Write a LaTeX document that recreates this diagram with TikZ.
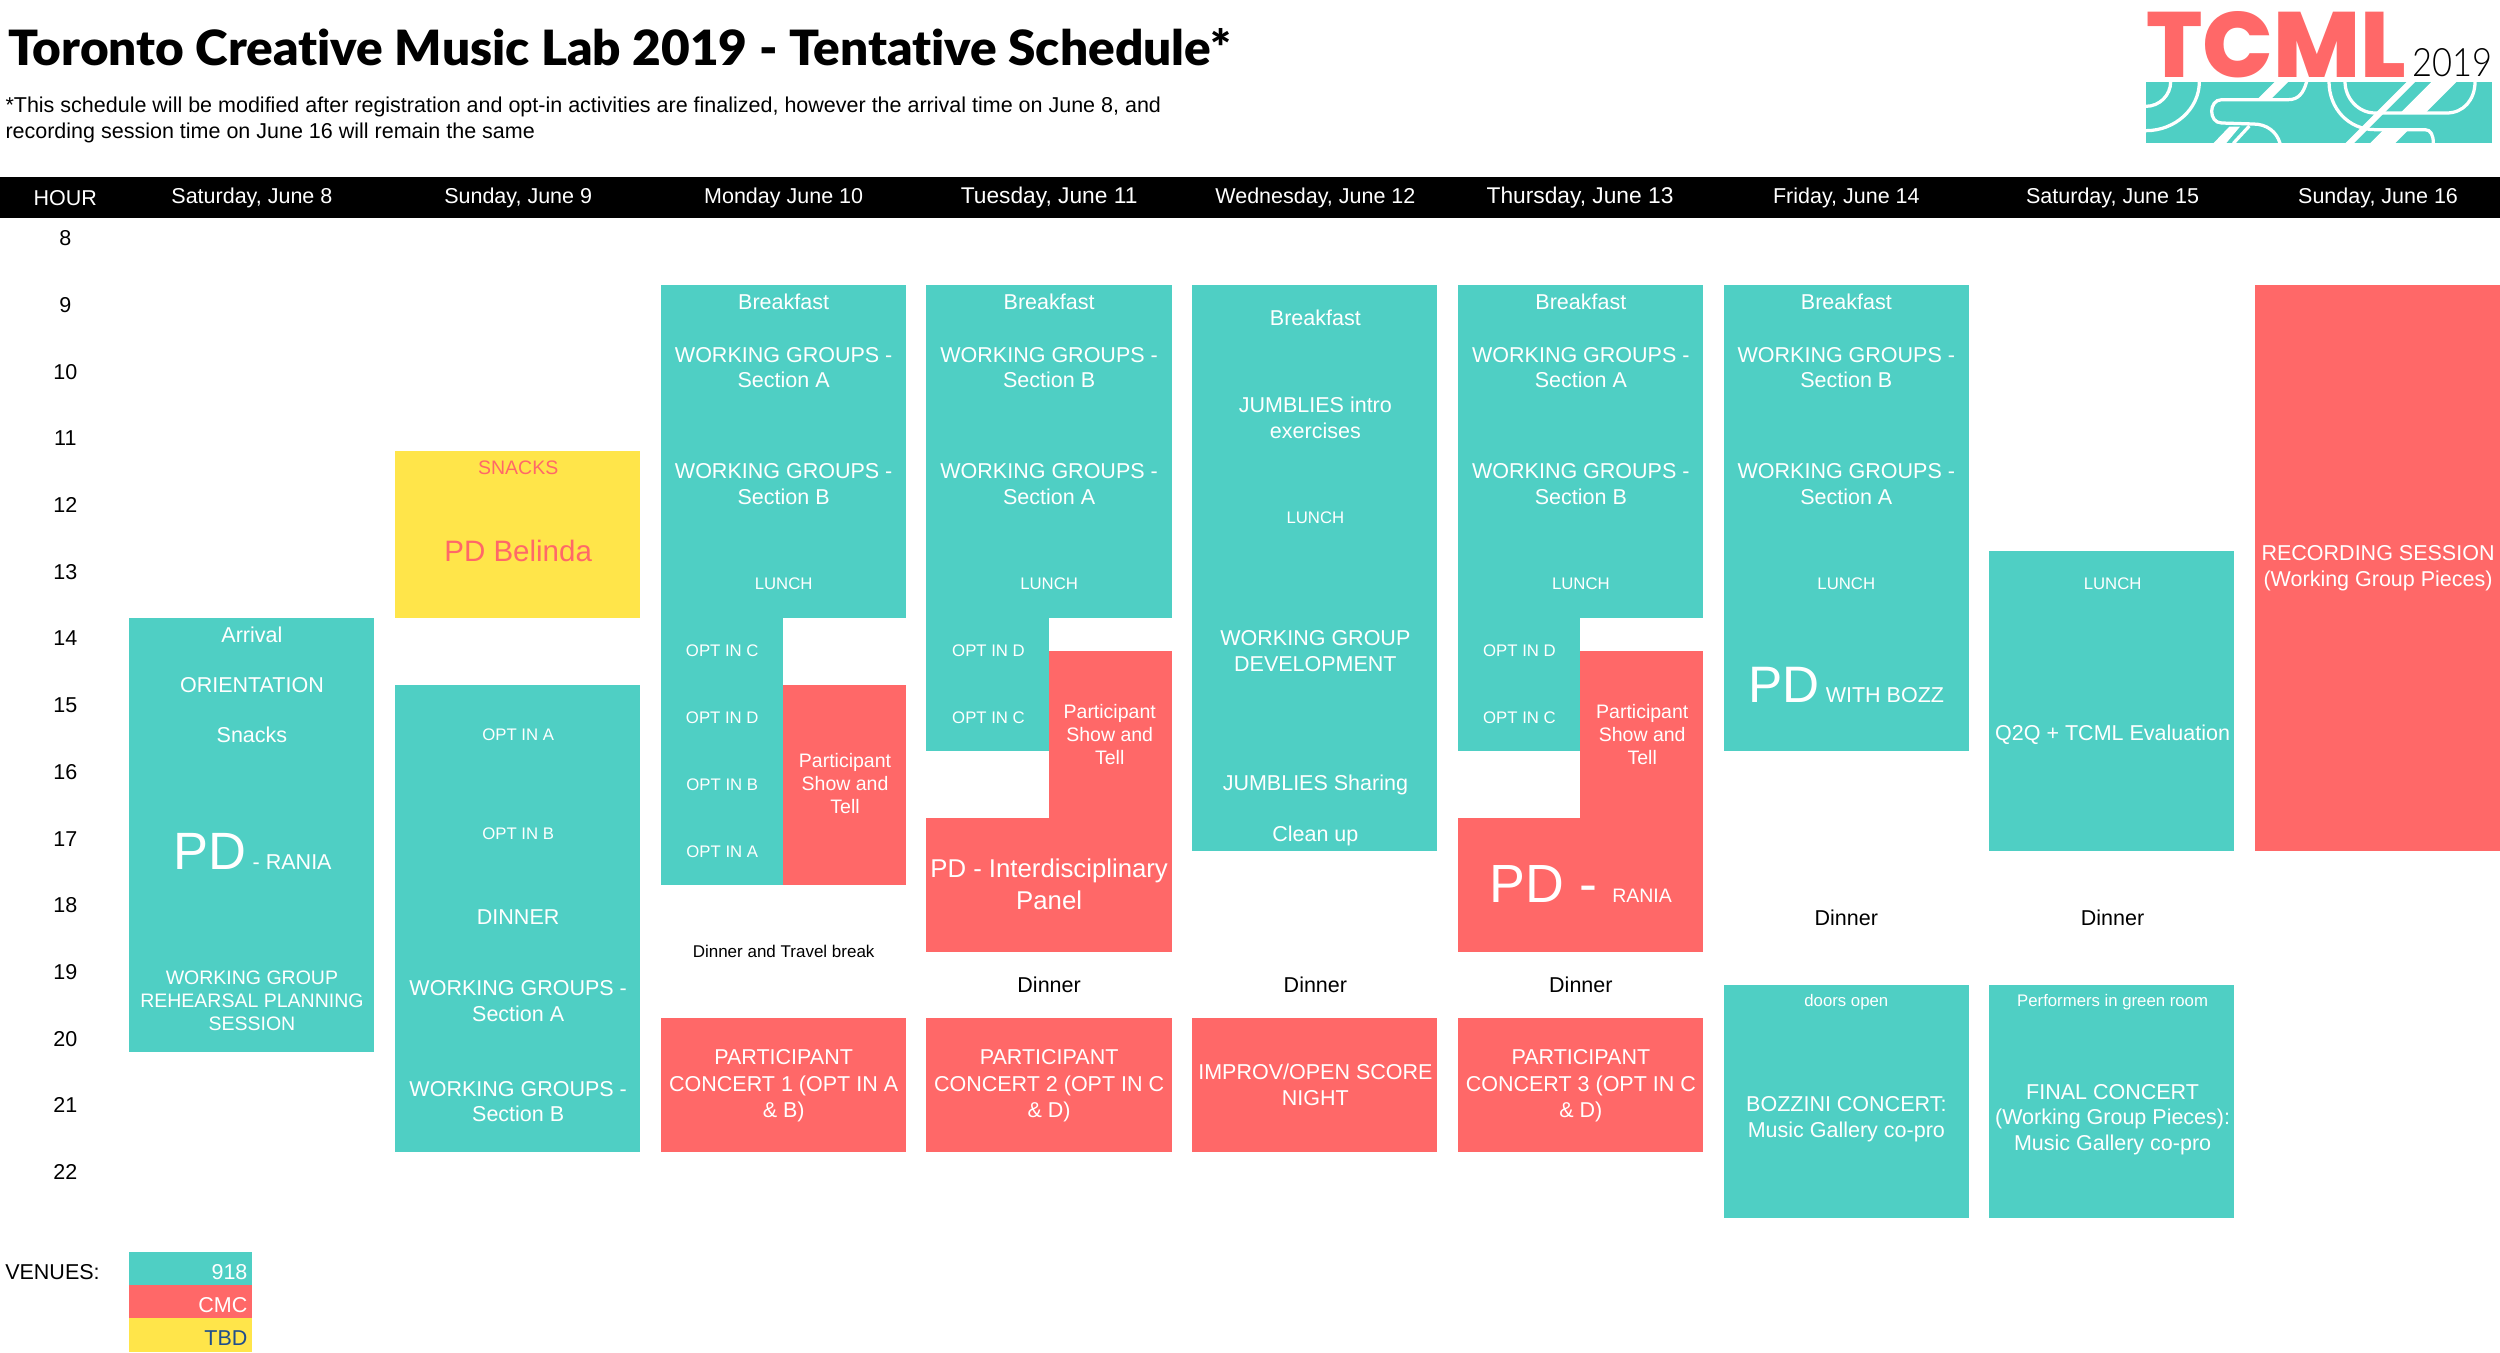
\documentclass[tikz,border=0pt]{standalone}
\usepackage{fontspec}
\usepackage{graphicx}
\setmainfont{Liberation Sans}
\newfontfamily\titlefont[Ligatures=NoCommon]{Lato Black}
\newfontfamily\logofont{Poppins ExtraBold}
\newfontfamily\yearfont{Lato Light}
\definecolor{tealb}{HTML}{4FCFC4}
\definecolor{redb}{HTML}{FF6868}
\definecolor{yelb}{HTML}{FFE54A}
\definecolor{navyt}{HTML}{1F4E8C}
\tikzset{
  txt/.style={inner sep=0pt,align=center,text=white,font=\fontsize{8.6}{10.2}\selectfont},
  sm/.style={font=\fontsize{6.7}{8}\selectfont},
  md/.style={font=\fontsize{7.8}{9.2}\selectfont},
  conc/.style={font=\fontsize{8.6}{10.5}\selectfont},
  wide/.style={font=\fontsize{9.1}{10.5}\selectfont},
  blk/.style={text=black},
  hourt/.style={text=black},
  logoline/.style={draw=white,line width=1.3pt,line cap=butt}
}
\newcount\tcnt
\newcommand\T[4][]{\global\advance\tcnt by 1
  \node[txt,#1] (t\the\tcnt) at ({#2*1.5944},{#3*1.5944}) {#4};}
% rows: y = 284.5 + 33.35 k
\newcommand\B[5]{\fill[#1] ({#2},{284.5+33.35*#3}) rectangle ({#4},{284.5+33.35*#5});}
\newcommand\WGa{WORKING GROUPS -\\Section A}
\newcommand\WGb{WORKING GROUPS -\\Section B}
\newcommand\PST{Participant\\Show and\\Tell}
\begin{document}
\begin{tikzpicture}[x=0.4pt,y=-0.4pt]
\useasboundingbox (0,0) rectangle (2500,1353);
% header band
\fill[black] (0,177) rectangle (2500,218);
% boxes
\B{tealb}{129}{10}{374}{23}
\B{yelb}{395}{5}{640}{10}
\B{tealb}{395}{12}{640}{26}
% Monday
\B{tealb}{661}{0}{906}{10}
\B{tealb}{661}{10}{783}{18}
\B{redb}{783}{12}{906}{18}
\B{redb}{661}{22}{906}{26}
% Tuesday
\B{tealb}{926}{0}{1172}{10}
\B{tealb}{926}{10}{1049}{14}
\B{redb}{1049}{11}{1172}{16}
\B{redb}{926}{16}{1172}{20}
\B{redb}{926}{22}{1172}{26}
% Wednesday
\B{tealb}{1192}{0}{1437}{17}
\B{redb}{1192}{22}{1437}{26}
% Thursday
\B{tealb}{1458}{0}{1703}{10}
\B{tealb}{1458}{10}{1580}{14}
\B{redb}{1580}{11}{1703}{16}
\B{redb}{1458}{16}{1703}{20}
\B{redb}{1458}{22}{1703}{26}
% Friday
\B{tealb}{1724}{0}{1969}{14}
\B{tealb}{1724}{21}{1969}{28}
% Saturday 15
\B{tealb}{1989}{8}{2234}{17}
\B{tealb}{1989}{21}{2234}{28}
% Sunday 16
\B{redb}{2255}{0}{2500}{17}
% legend
\B{tealb}{129}{29}{252}{30}
\B{redb}{129}{30}{252}{31}
\B{yelb}{129}{31}{252}{32}
% title
\node[inner sep=0pt,anchor=north west] (title) at (8,28) {\resizebox{489pt}{14.8pt}{\titlefont Toronto Creative Music Lab 2019 - Tentative Schedule*}};
\node[inner sep=0pt,anchor=west,align=left,text=black,font=\fontsize{8.6}{10.5}\selectfont] (subtitle) at (5,119.8) {*This schedule will be modified after registration and opt-in activities are finalized, however the arrival time on June 8, and\\recording session time on June 16 will remain the same};
% logo
\node[inner sep=0pt,anchor=north west,text=redb] (logo) at (2146,11) {\resizebox{104pt}{26.4pt}{\logofont TCML}};
\node[inner sep=0pt,anchor=north west,text=black] (year) at (2412,48) {\resizebox{32pt}{11.2pt}{\yearfont 2019}};
\begin{scope}[shift={(2100,0)},x=0.13333pt,y=-0.13333pt]
\fill[tealb] (138,245) rectangle (1176,430);
\clip (138,245) rectangle (1176,430);
% left group
\draw[logoline] (138,319) .. controls (178,319) and (212,286) .. (212,245);
\draw[logoline] (138,392) .. controls (226,392) and (298,326) .. (298,245);
\fill[white] (525,245) -- (565,245) -- (511,299) -- (471,299) -- cycle;
\draw[logoline] (620,245) .. controls (610,280) and (595,299) .. (565,299) -- (365,299) .. controls (325,299) and (325,369) .. (365,369) -- (460,372) .. controls (500,372) and (530,395) .. (540,430);
\fill[white] (388,380) -- (420,380) -- (378,430) -- (340,430) -- cycle;
\draw[logoline] (448,378) -- (400,430);
% right group
\draw[logoline] (687,245) .. controls (687,325) and (745,389) .. (825,389) -- (975,389) .. controls (992,389) and (1000,405) .. (1000,430);
\draw[logoline] (735,245) .. controls (735,295) and (775,339) .. (825,339) -- (1040,339) .. controls (1090,339) and (1125,300) .. (1125,245);
\fill[white] (921,245) -- (946,245) -- (761,430) -- (736,430) -- cycle;
\fill[white] (995,245) -- (1070,245) -- (976,339) -- (901,339) -- cycle;
\fill[white] (851,389) -- (926,389) -- (885,430) -- (810,430) -- cycle;
\end{scope}
% header text
\T{41}{124}{HOUR}
\T{158}{124}{Saturday, June 8}
\T{325}{124}{Sunday, June 9}
\T{491.5}{124}{Monday June 10}
\T[wide]{658}{124}{Tuesday, June 11}
\T{825}{124}{Wednesday, June 12}
\T[wide]{991}{124}{Thursday, June 13}
\T{1158}{124}{Friday, June 14}
\T{1325}{124}{Saturday, June 15}
\T{1491.5}{124}{Sunday, June 16}
% hours
\T[hourt]{41}{149.5}{8}
\T[hourt]{41}{191.4}{9}
\T[hourt]{41}{233.2}{10}
\T[hourt]{41}{275}{11}
\T[hourt]{41}{316.9}{12}
\T[hourt]{41}{358.7}{13}
\T[hourt]{41}{400.5}{14}
\T[hourt]{41}{442.3}{15}
\T[hourt]{41}{484.1}{16}
\T[hourt]{41}{526}{17}
\T[hourt]{41}{567.8}{18}
\T[hourt]{41}{609.6}{19}
\T[hourt]{41}{651.4}{20}
\T[hourt]{41}{693.2}{21}
\T[hourt]{41}{735}{22}
% Saturday June 8
\T{158}{398}{Arrival}
\T{158}{429.5}{ORIENTATION}
\T{158}{461}{Snacks}
\T[anchor=base]{158.5}{545.5}{{\fontsize{21}{21}\selectfont PD} - RANIA}
\T[md]{158}{627.5}{WORKING GROUP\\REHEARSAL PLANNING\\SESSION}
% Sunday June 9
\T[md,text=redb]{325}{293.5}{SNACKS}
\T[text=redb,font=\fontsize{11.8}{14}\selectfont]{325}{345.5}{PD Belinda}
\T[sm]{325}{460.5}{OPT IN A}
\T[sm]{325}{523}{OPT IN B}
\T{325}{575.5}{DINNER}
\T{325}{628}{\WGa}
\T{325}{691}{\WGb}
% Monday
\T{491.5}{189}{Breakfast}
\T{491.5}{230.5}{\WGa}
\T{491.5}{303.5}{\WGb}
\T[sm]{491.5}{366}{LUNCH}
\T[sm]{453}{408}{OPT IN C}
\T[sm]{453}{450}{OPT IN D}
\T[sm]{453}{492}{OPT IN B}
\T[sm]{453}{534}{OPT IN A}
\T[md]{530}{491.5}{\PST}
\T[blk,font=\fontsize{6.8}{8.5}\selectfont]{491.5}{596.5}{Dinner and Travel break}
\T[conc]{491.5}{681}{PARTICIPANT\\CONCERT 1 (OPT IN A\\\& B)}
% Tuesday
\T{658}{189}{Breakfast}
\T{658}{230.5}{\WGb}
\T{658}{303.5}{\WGa}
\T[sm]{658}{366}{LUNCH}
\T[sm]{620}{408}{OPT IN D}
\T[sm]{620}{450}{OPT IN C}
\T[md]{696}{460.5}{\PST}
\T[font=\fontsize{10.3}{12.8}\selectfont]{658}{554.5}{PD - Interdisciplinary\\Panel}
\T[blk]{658}{617.5}{Dinner}
\T[conc]{658}{681}{PARTICIPANT\\CONCERT 2 (OPT IN C\\\& D)}
% Wednesday
\T{825}{199.5}{Breakfast}
\T{825}{262}{JUMBLIES intro\\exercises}
\T[sm]{825}{324.5}{LUNCH}
\T{825}{408.5}{WORKING GROUP\\DEVELOPMENT}
\T{825}{492.5}{JUMBLIES Sharing}
\T{825}{524}{Clean up}
\T[blk]{825}{617.5}{Dinner}
\T{825}{680.5}{IMPROV/OPEN SCORE\\NIGHT}
% Thursday
\T{991.5}{189}{Breakfast}
\T{991.5}{230.5}{\WGa}
\T{991.5}{303.5}{\WGb}
\T[sm]{991.5}{366}{LUNCH}
\T[sm]{953}{408}{OPT IN D}
\T[sm]{953}{450}{OPT IN C}
\T[md]{1030}{460.5}{\PST}
\T[anchor=base,md]{991.5}{566}{{\fontsize{21.5}{22}\selectfont PD -}\hspace{6pt}RANIA}
\T[blk]{991.5}{617.5}{Dinner}
\T[conc]{991.5}{681}{PARTICIPANT\\CONCERT 3 (OPT IN C\\\& D)}
% Friday
\T{1158}{189}{Breakfast}
\T{1158}{230.5}{\WGb}
\T{1158}{303.5}{\WGa}
\T[sm]{1158}{366}{LUNCH}
\T[anchor=base]{1158}{440.5}{{\fontsize{20.5}{21}\selectfont PD} WITH BOZZ}
\T[blk]{1158}{575.5}{Dinner}
\T[sm]{1158}{628.5}{doors open}
\T{1158}{702}{BOZZINI CONCERT:\\Music Gallery co-pro}
% Saturday June 15
\T[sm]{1325}{366}{LUNCH}
\T{1325}{461}{Q2Q + TCML Evaluation}
\T[blk]{1325}{575.5}{Dinner}
\T[sm]{1325}{628.5}{Performers in green room}
\T{1325}{702}{FINAL CONCERT\\(Working Group Pieces):\\Music Gallery co-pro}
% Sunday June 16
\T{1491.5}{356.5}{RECORDING SESSION\\(Working Group Pieces)}
% legend text
\T[blk,anchor=west]{3}{798}{VENUES:}
\T[anchor=east]{155.5}{798}{918}
\T[anchor=east]{155.5}{818.5}{CMC}
\T[anchor=east,text=navyt]{155.5}{839}{TBD}
\end{tikzpicture}
\end{document}
